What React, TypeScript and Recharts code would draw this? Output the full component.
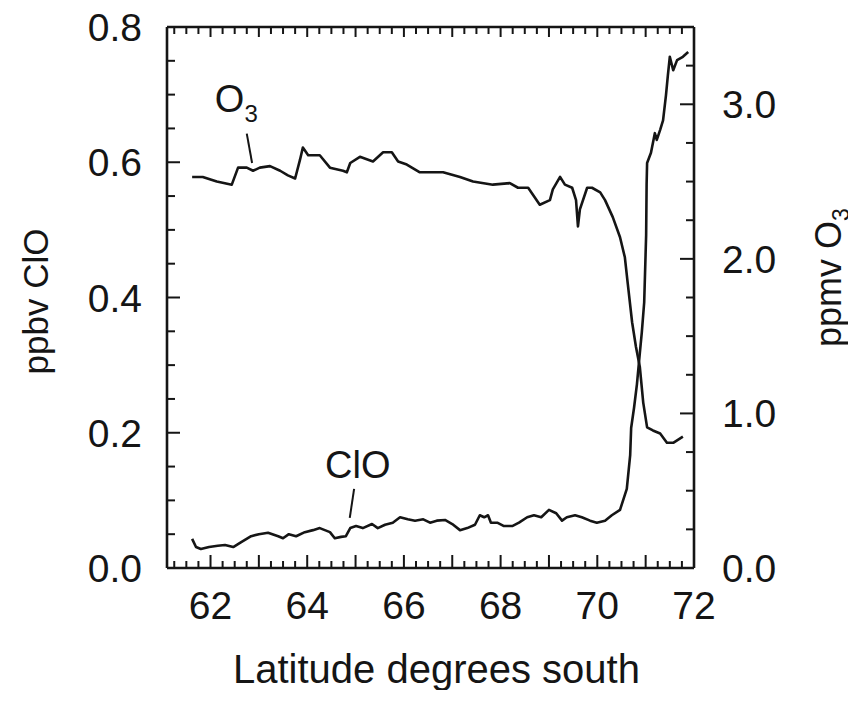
import React from 'react';
import { LineChart, Line, XAxis, YAxis, ReferenceLine, ReferenceDot, Label } from 'recharts';

const FONT = '"Liberation Sans", Arial, Helvetica, sans-serif';
const INK = '#151515';

// Ozone (ppmv, right axis) along the flight track
const O3_LAT = [61.62, 61.84, 62.13, 62.44, 62.57, 62.75, 62.88, 63.02, 63.23, 63.44, 63.60, 63.75, 63.85, 63.91, 64.02, 64.26, 64.47, 64.74, 64.82, 64.89, 65.09, 65.36, 65.57, 65.75, 65.88, 66.06, 66.33, 66.81, 67.16, 67.43, 67.84, 68.19, 68.36, 68.57, 68.81, 69.02, 69.08, 69.23, 69.33, 69.48, 69.56, 69.60, 69.64, 69.79, 69.89, 70.06, 70.16, 70.32, 70.47, 70.57, 70.63, 70.72, 70.80, 70.88, 70.95, 71.03, 71.15, 71.30, 71.44, 71.57, 71.77];
const O3_PPMV = [2.53, 2.53, 2.50, 2.48, 2.59, 2.59, 2.57, 2.59, 2.60, 2.57, 2.54, 2.52, 2.64, 2.72, 2.67, 2.67, 2.59, 2.57, 2.56, 2.62, 2.66, 2.63, 2.69, 2.69, 2.63, 2.61, 2.56, 2.56, 2.53, 2.50, 2.48, 2.49, 2.46, 2.46, 2.35, 2.38, 2.45, 2.53, 2.48, 2.46, 2.38, 2.21, 2.32, 2.46, 2.46, 2.43, 2.38, 2.27, 2.14, 2.01, 1.84, 1.59, 1.43, 1.30, 1.07, 0.91, 0.89, 0.87, 0.81, 0.81, 0.85];

// Chlorine monoxide (ppbv, left axis)
const CLO_LAT = [61.62, 61.70, 61.80, 61.97, 62.15, 62.30, 62.47, 62.61, 62.84, 63.00, 63.19, 63.40, 63.50, 63.62, 63.77, 63.95, 64.12, 64.26, 64.47, 64.57, 64.70, 64.80, 64.89, 65.01, 65.15, 65.34, 65.46, 65.61, 65.77, 65.92, 66.08, 66.23, 66.40, 66.54, 66.68, 66.85, 67.00, 67.16, 67.31, 67.47, 67.57, 67.66, 67.74, 67.80, 67.93, 68.07, 68.24, 68.38, 68.55, 68.69, 68.84, 69.00, 69.15, 69.27, 69.37, 69.54, 69.68, 69.85, 69.99, 70.16, 70.30, 70.47, 70.57, 70.61, 70.68, 70.70, 70.76, 70.82, 70.88, 70.92, 70.97, 71.01, 71.02, 71.03, 71.11, 71.19, 71.23, 71.30, 71.36, 71.42, 71.46, 71.50, 71.57, 71.65, 71.77, 71.88];
const CLO_PPBV = [0.043, 0.031, 0.028, 0.031, 0.033, 0.034, 0.031, 0.037, 0.047, 0.050, 0.052, 0.047, 0.044, 0.050, 0.047, 0.053, 0.056, 0.059, 0.053, 0.044, 0.046, 0.047, 0.059, 0.062, 0.059, 0.065, 0.059, 0.064, 0.067, 0.075, 0.072, 0.070, 0.072, 0.067, 0.070, 0.071, 0.065, 0.056, 0.059, 0.064, 0.078, 0.075, 0.078, 0.067, 0.067, 0.062, 0.062, 0.067, 0.075, 0.078, 0.075, 0.086, 0.081, 0.070, 0.075, 0.078, 0.075, 0.070, 0.067, 0.070, 0.078, 0.086, 0.108, 0.117, 0.167, 0.207, 0.237, 0.272, 0.318, 0.348, 0.393, 0.492, 0.568, 0.599, 0.614, 0.643, 0.633, 0.648, 0.662, 0.699, 0.729, 0.756, 0.736, 0.751, 0.756, 0.763];

// Tick labels
const X_LABELS = [62, 64, 66, 68, 70, 72];
const CLO_LABELS = [0, 0.2, 0.4, 0.6, 0.8];
const O3_LABELS = [0, 1, 2, 3];

// Domains
const X_DOMAIN: [number, number] = [61.1, 72];
const CLO_DOMAIN: [number, number] = [0, 0.8];
const O3_DOMAIN: [number, number] = [0, 3.5];

// Minor tick steps
const X_STEP = 0.25;
const CLO_STEP = 0.05;
const O3_STEP = 0.25;

// Annotations (data coordinates)
const O3_TAG = { lat: 62.09, ppmv: 2.95 };
const O3_LEADER = [{ lat: 62.75, ppmv: 2.81 }, { lat: 62.86, ppmv: 2.62 }];
const CLO_TAG = { lat: 64.37, ppbv: 0.133 };
const CLO_LEADER = [{ lat: 64.97, ppbv: 0.117 }, { lat: 64.88, ppbv: 0.074 }];

const stepTicks = (lo: number, hi: number, step: number) => {
  const out: number[] = [];
  const n = Math.round((hi - lo) / step);
  for (let i = 0; i <= n; i++) out.push(+(lo + i * step).toFixed(3));
  return out;
};

const X_TICKS = stepTicks(61.25, 72, X_STEP);
const CLO_TICKS = stepTicks(0, 0.8, CLO_STEP);
const O3_TICKS = stepTicks(0, 3.5, O3_STEP);

const o3Data = O3_LAT.map((lat, i) => ({ lat, v: O3_PPMV[i] }));
const cloData = CLO_LAT.map((lat, i) => ({ lat, v: CLO_PPBV[i] }));

const near = (a: number, b: number) => Math.abs(a - b) < 1e-6;
const isLabel = (v: number, list: number[]) => list.some((l) => near(l, v));

const TICK_FS = 39;
const TITLE_FS = 40;

const BottomTick = (p: any) => {
  const { x, y, payload } = p;
  const v = payload.value;
  const major = near(v, Math.round(v));
  const len = major ? 13 : 7;
  return (
    <g>
      <line x1={x} y1={y} x2={x} y2={y - len} stroke={INK} strokeWidth={2} />
      {isLabel(v, X_LABELS) && (
        <text x={x} y={y + 51} textAnchor="middle" fontSize={TICK_FS} fontFamily={FONT} fill={INK}>
          {Math.round(v)}
        </text>
      )}
    </g>
  );
};

const TopTick = (p: any) => {
  const { x, y, payload } = p;
  const v = payload.value;
  const major = near(v, Math.round(v));
  const len = major ? 10 : 7;
  return <line x1={x} y1={y} x2={x} y2={y + len} stroke={INK} strokeWidth={2} />;
};

const LeftTick = (p: any) => {
  const { x, y, payload } = p;
  const v = payload.value;
  const lab = isLabel(v, CLO_LABELS);
  const len = lab ? 13 : 8;
  return (
    <g>
      <line x1={x} y1={y} x2={x + len} y2={y} stroke={INK} strokeWidth={2} />
      {lab && (
        <text x={x - 25} y={y + 14} textAnchor="end" fontSize={TICK_FS} fontFamily={FONT} fill={INK}>
          {v.toFixed(1)}
        </text>
      )}
    </g>
  );
};

const RightTick = (p: any) => {
  const { x, y, payload } = p;
  const v = payload.value;
  const lab = isLabel(v, O3_LABELS);
  const len = lab ? 14 : 8;
  return (
    <g>
      <line x1={x} y1={y} x2={x - len} y2={y} stroke={INK} strokeWidth={2} />
      {lab && (
        <text x={x + 28} y={y + 14} textAnchor="start" fontSize={TICK_FS} fontFamily={FONT} fill={INK}>
          {v.toFixed(1)}
        </text>
      )}
    </g>
  );
};

const LeftTitle = (p: any) => {
  const vb = p.viewBox || {};
  const cx = vb.x + 36;
  const cy = vb.y + vb.height / 2 + 4;
  return (
    <text
      x={cx}
      y={cy}
      dy={12}
      transform={`rotate(-90 ${cx} ${cy})`}
      textAnchor="middle"
      fontSize={35}
      fontFamily={FONT}
      fill={INK}
    >
      ppbv ClO
    </text>
  );
};

const RightTitle = (p: any) => {
  const vb = p.viewBox || {};
  const cx = vb.x + 135;
  const cy = vb.y + vb.height / 2 - 20;
  return (
    <text
      x={cx}
      y={cy}
      dy={12}
      transform={`rotate(-90 ${cx} ${cy})`}
      textAnchor="middle"
      fontSize={36}
      fontFamily={FONT}
      fill={INK}
    >
      ppmv O
      <tspan fontSize={23} dy={8}>3</tspan>
    </text>
  );
};

const BottomTitle = (p: any) => {
  const vb = p.viewBox || {};
  const cx = vb.x + vb.width / 2 + 6;
  const y = vb.y + 115;
  return (
    <text x={cx} y={y} textAnchor="middle" fontSize={TITLE_FS} fontFamily={FONT} fill={INK}>
      Latitude degrees south
    </text>
  );
};

const O3Text = (p: any) => (
  <text x={p.cx} y={p.cy} textAnchor="start" fontSize={38} fontFamily={FONT} fill={INK}>
    O
    <tspan fontSize={24} dy={10}>3</tspan>
  </text>
);

const CloText = (p: any) => (
  <text x={p.cx} y={p.cy} textAnchor="start" fontSize={38} fontFamily={FONT} fill={INK}>
    ClO
  </text>
);

const axisLine = { stroke: INK, strokeWidth: 2.6 };

export default function App() {
  return (
    <div style={{ margin: -8, width: 856, height: 698 }}>
      <LineChart width={856} height={698} margin={{ top: 26, right: 0, bottom: 0, left: 0 }}>
        <XAxis
          xAxisId="bottom"
          dataKey="lat"
          type="number"
          orientation="bottom"
          domain={X_DOMAIN}
          allowDataOverflow
          ticks={X_TICKS}
          interval={0}
          height={130}
          tickSize={0}
          tickMargin={0}
          tickLine={false}
          tick={(p: any) => <BottomTick {...p} />}
          axisLine={axisLine}
        >
          <Label content={(p: any) => <BottomTitle {...p} />} />
        </XAxis>
        <XAxis
          xAxisId="top"
          dataKey="lat"
          type="number"
          orientation="top"
          domain={X_DOMAIN}
          allowDataOverflow
          ticks={X_TICKS}
          interval={0}
          height={1}
          tickSize={0}
          tickMargin={0}
          tickLine={false}
          tick={(p: any) => <TopTick {...p} />}
          axisLine={axisLine}
        />
        <YAxis
          yAxisId="left"
          orientation="left"
          type="number"
          domain={CLO_DOMAIN}
          allowDataOverflow
          ticks={CLO_TICKS}
          interval={0}
          width={167}
          tickSize={0}
          tickMargin={0}
          tickLine={false}
          tick={(p: any) => <LeftTick {...p} />}
          axisLine={axisLine}
        >
          <Label content={(p: any) => <LeftTitle {...p} />} />
        </YAxis>
        <YAxis
          yAxisId="right"
          orientation="right"
          type="number"
          domain={O3_DOMAIN}
          allowDataOverflow
          ticks={O3_TICKS}
          interval={0}
          width={162}
          tickSize={0}
          tickMargin={0}
          tickLine={false}
          tick={(p: any) => <RightTick {...p} />}
          axisLine={axisLine}
        >
          <Label content={(p: any) => <RightTitle {...p} />} />
        </YAxis>

        <Line
          data={o3Data}
          dataKey="v"
          xAxisId="bottom"
          yAxisId="right"
          type="linear"
          dot={false}
          stroke={INK}
          strokeWidth={2.6}
          strokeLinejoin="round"
          isAnimationActive={false}
        />
        <Line
          data={cloData}
          dataKey="v"
          xAxisId="bottom"
          yAxisId="left"
          type="linear"
          dot={false}
          stroke={INK}
          strokeWidth={2.6}
          strokeLinejoin="round"
          isAnimationActive={false}
        />

        <ReferenceLine
          xAxisId="bottom"
          yAxisId="right"
          segment={[
            { x: O3_LEADER[0].lat, y: O3_LEADER[0].ppmv },
            { x: O3_LEADER[1].lat, y: O3_LEADER[1].ppmv },
          ]}
          stroke={INK}
          strokeWidth={2}
        />
        <ReferenceLine
          xAxisId="bottom"
          yAxisId="left"
          segment={[
            { x: CLO_LEADER[0].lat, y: CLO_LEADER[0].ppbv },
            { x: CLO_LEADER[1].lat, y: CLO_LEADER[1].ppbv },
          ]}
          stroke={INK}
          strokeWidth={2}
        />
        <ReferenceDot
          xAxisId="bottom"
          yAxisId="right"
          x={O3_TAG.lat}
          y={O3_TAG.ppmv}
          r={0}
          shape={(p: any) => <O3Text {...p} />}
        />
        <ReferenceDot
          xAxisId="bottom"
          yAxisId="left"
          x={CLO_TAG.lat}
          y={CLO_TAG.ppbv}
          r={0}
          shape={(p: any) => <CloText {...p} />}
        />
      </LineChart>
    </div>
  );
}
